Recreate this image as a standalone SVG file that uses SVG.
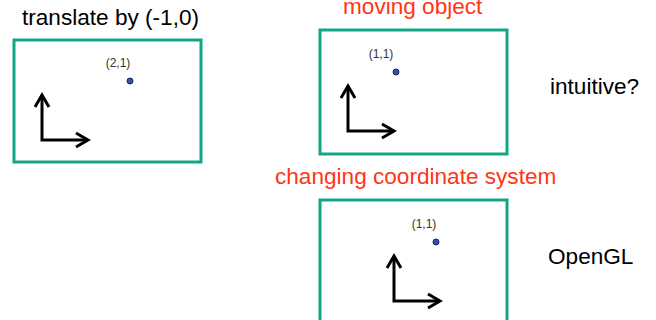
<svg xmlns="http://www.w3.org/2000/svg" width="656" height="320" viewBox="0 0 656 320">
<style>
.frame{fill:#fff;stroke:#13a586;stroke-width:3}
.axis{fill:none;stroke:#000;stroke-width:3;stroke-linejoin:miter}
.head{fill:none;stroke:#000;stroke-width:3;stroke-linecap:butt;stroke-linejoin:miter}
.dot{fill:#3f4ba3;stroke:#1d2466;stroke-width:1}
.lbl{font-family:"Liberation Sans",Arial,sans-serif;font-size:12px;fill:#333;text-anchor:middle}
.title{font-family:"Liberation Sans",Arial,sans-serif;font-size:22.6px;fill:#000}
.red{fill:#ff3517}
</style>
<defs>
<g id="axes">
<path class="axis" d="M0,-45 V0 H46"/>
<path class="head" d="M-7,-33 L0,-45 L7,-33"/>
<path class="head" d="M34,-7 L46,0 L34,7"/>
</g>
</defs>
<rect width="656" height="320" fill="#fff"/>
<text class="title" x="22" y="25">translate by (-1,0)</text>
<text class="title red" x="343" y="14">moving object</text>
<text class="title red" x="275" y="184">changing coordinate system</text>
<text class="title" x="550" y="94">intuitive?</text>
<text class="title" x="548" y="264">OpenGL</text>
<g id="panel-translate">
<rect class="frame" x="14" y="40" width="187" height="122"/>
<use href="#axes" x="42" y="140"/>
<circle class="dot" cx="130" cy="81" r="3"/>
<text class="lbl" x="118" y="67">(2,1)</text>
</g>
<g id="panel-moving-object">
<rect class="frame" x="320" y="30" width="187" height="124"/>
<use href="#axes" x="348" y="131"/>
<circle class="dot" cx="396" cy="72" r="3"/>
<text class="lbl" x="381" y="58">(1,1)</text>
</g>
<g id="panel-changing-coords">
<rect class="frame" x="320" y="200" width="187" height="124"/>
<use href="#axes" x="394" y="301"/>
<circle class="dot" cx="436" cy="242" r="3"/>
<text class="lbl" x="424" y="228">(1,1)</text>
</g>
<g id="connectors"></g>
</svg>
